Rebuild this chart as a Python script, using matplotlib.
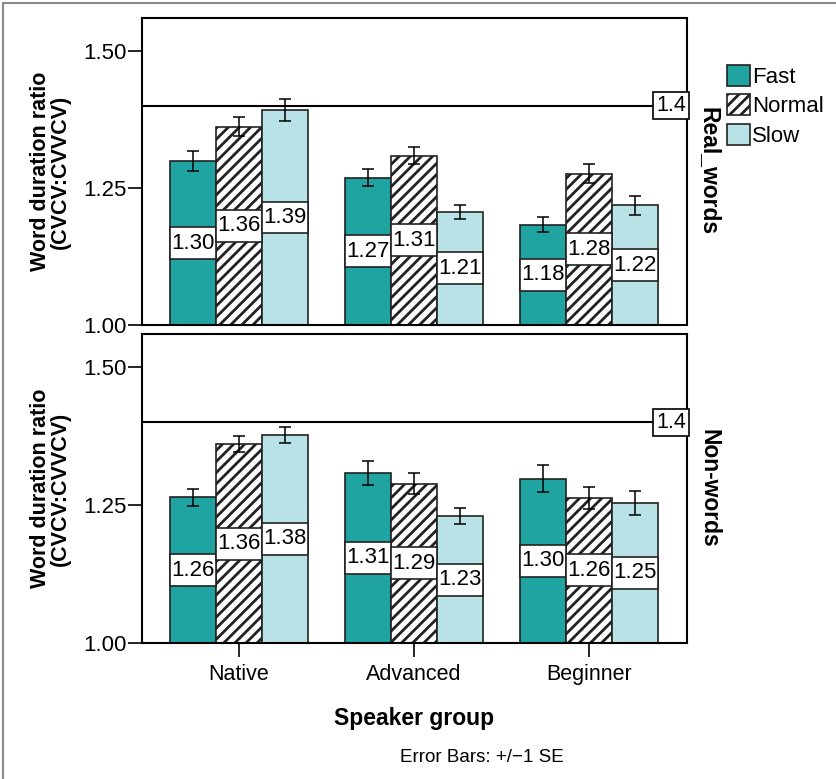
import numpy as np
import matplotlib.pyplot as plt
from matplotlib.patches import Patch, Rectangle

groups = ['Native', 'Advanced', 'Beginner']
speeds = ['Fast', 'Normal', 'Slow']
panels = ['Real_words', 'Non-words']

# means per panel, rows = speed, cols = group
real_means = [[1.299, 1.269, 1.183],
              [1.362, 1.309, 1.276],
              [1.392, 1.2065, 1.218]]
real_se = [[0.018, 0.0157, 0.014],
           [0.0175, 0.016, 0.0175],
           [0.0196, 0.0133, 0.0175]]
non_means = [[1.264, 1.3085, 1.2977],
             [1.3605, 1.289, 1.263],
             [1.377, 1.230, 1.254]]
non_se = [[0.0157, 0.022, 0.0248],
          [0.015, 0.0187, 0.020],
          [0.015, 0.014, 0.0217]]
ref_value = 1.4

colors = ['#20a4a1', 'white', '#b8e2e6']
hatches = [None, '///', None]

plt.rcParams['font.family'] = ['Liberation Sans', 'DejaVu Sans']
plt.rcParams['hatch.linewidth'] = 2.0

fig = plt.figure(figsize=(8.37, 7.79), dpi=100)
W, H = 837, 779


def px_axes(l, t, r, b):
    return fig.add_axes([l / W, 1 - b / H, (r - l) / W, (b - t) / H])


ax_top = px_axes(142, 18, 687, 325)
ax_bot = px_axes(142, 334, 687, 643)

x = np.arange(len(groups))
w = 0.263
box_h = 0.058

for ax, means, ses, name in [(ax_top, real_means, real_se, panels[0]),
                             (ax_bot, non_means, non_se, panels[1])]:
    for i in range(3):
        m = np.array(means[i])
        xs = x + (i - 1) * w
        ax.bar(xs, m - 1.0, bottom=1.0, width=w, color=colors[i],
               hatch=hatches[i], edgecolor='#222222', linewidth=1.2, zorder=2)
        ax.errorbar(xs, m, yerr=ses[i], fmt='none', ecolor='black',
                    elinewidth=1.1, capsize=4.5, capthick=1.1, zorder=4)
        mid = (1.0 + m) / 2
        ax.bar(xs, box_h, bottom=mid - box_h / 2, width=w, color='white',
               edgecolor='#222222', linewidth=1.2, zorder=3)
        for xx, yy, v in zip(xs, mid, m):
            ax.text(xx, yy, f'{v:.2f}', ha='center', va='center',
                    fontsize=16, zorder=5)
    ax.axhline(ref_value, color='black', linewidth=1.5, zorder=1)
    ax.text(2.555, ref_value, '1.4', ha='right', va='center', fontsize=15.5,
            zorder=6, bbox=dict(boxstyle='square,pad=0.15', fc='white',
                                ec='black', lw=1.2))
    ax.set_xlim(-0.555, 2.56)
    ax.set_ylim(1.0, 1.56)
    ax.set_yticks([1.0, 1.25, 1.5])
    ax.set_yticklabels(['1.00', '1.25', '1.50'], fontsize=16)
    ax.tick_params(axis='y', direction='out', length=10, width=1.2, pad=1)
    for s in ax.spines.values():
        s.set_linewidth(1.5)
    ax.set_ylabel('Word duration ratio\n(CVCV:CVVCV)', fontsize=15.5,
                  fontweight='bold', linespacing=0.95, labelpad=9)
    ax.text(1.02, 0.5, name, transform=ax.transAxes, rotation=-90,
            ha='left', va='center', fontsize=16.5, fontweight='bold')

ax_top.set_xticks([])
ax_bot.set_xticks(x)
ax_bot.set_xticklabels(groups, fontsize=15.5)
ax_bot.tick_params(axis='x', direction='out', length=10, width=1.2, pad=5)
ax_bot.set_xlabel('Speaker group', fontsize=16.5, fontweight='bold',
                  labelpad=16)

handles = [Patch(facecolor=colors[i], hatch=hatches[i], edgecolor='#222222',
                 linewidth=1.2, label=speeds[i]) for i in range(3)]
fig.legend(handles=handles, loc='upper left',
           bbox_to_anchor=(718 / W, 1 - 56 / H), frameon=False, fontsize=16,
           handlelength=1.05, handleheight=1.05, handletextpad=0.1,
           labelspacing=0.3, borderaxespad=0)

fig.text(482 / W, 1 - 757 / H, 'Error Bars: +/\u22121 SE', ha='center',
         va='center', fontsize=13.5)

fig.patches.append(Rectangle((3 / W, -0.1), 1.2, 1.1 - 3 / H,
                             transform=fig.transFigure, fill=False,
                             edgecolor='#8a8a8a', linewidth=1.5))

fig.savefig('out.png', dpi=100)
